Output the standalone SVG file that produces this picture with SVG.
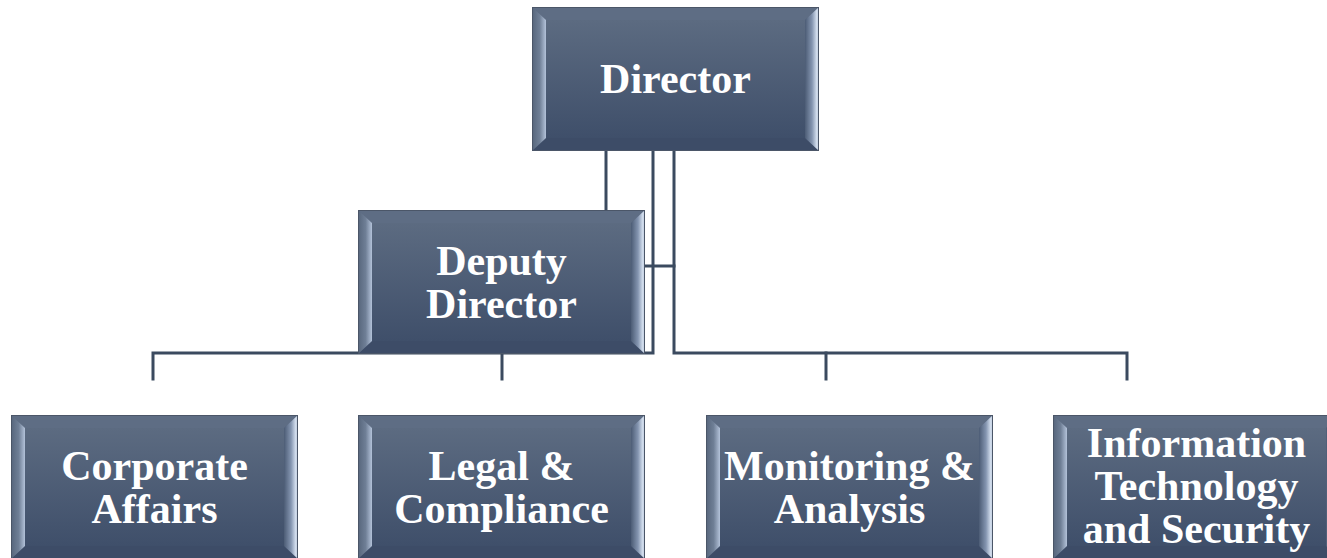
<svg xmlns="http://www.w3.org/2000/svg" xmlns:xlink="http://www.w3.org/1999/xlink" width="1327" height="558" viewBox="0 0 1327 558">
  <style>
    .wire { fill: none; stroke: #3b4a5f; stroke-width: 3; stroke-linecap: square; }
    .label { font-family: "Liberation Serif", "Times New Roman", serif; font-weight: bold; font-size: 42px; fill: #ffffff; text-anchor: middle; }
  </style>
  <defs>
    <linearGradient id="faceGrad" x1="0" y1="0" x2="0" y2="1">
      <stop offset="0" stop-color="#5c6b81"/>
      <stop offset="1" stop-color="#3f4f6a"/>
    </linearGradient>
    <linearGradient id="leftGrad" x1="0" y1="0" x2="1" y2="0">
      <stop offset="0" stop-color="#56657b"/>
      <stop offset="0.55" stop-color="#6f7f96"/>
      <stop offset="1" stop-color="#b3c2d9"/>
    </linearGradient>
    <linearGradient id="rightGrad" x1="0" y1="0" x2="1" y2="0">
      <stop offset="0" stop-color="#4c5c75"/>
      <stop offset="0.5" stop-color="#8495b0"/>
      <stop offset="0.85" stop-color="#d6e1f0"/>
      <stop offset="1" stop-color="#aab8cc"/>
    </linearGradient>
    <!-- bevelled box, 287 x 144 -->
    <g id="box">
      <rect x="0" y="0" width="287" height="144" fill="url(#faceGrad)"/>
      <polygon points="0,0 287,0 273,13 14,13" fill="#5e6d84"/>
      <polygon points="0,144 287,144 273,131 14,131" fill="#3d4c67"/>
      <polygon points="0,0 14,13 14,131 0,144" fill="url(#leftGrad)"/>
      <polygon points="287,0 273,13 273,131 287,144" fill="url(#rightGrad)"/>
      <rect x="14" y="13" width="259" height="118" fill="url(#faceGrad)"/>
      <rect x="0.5" y="0.5" width="286" height="143" fill="none" stroke="#4b5668" stroke-width="1"/>
    </g>
  </defs>

  <rect width="1327" height="558" fill="#ffffff"/>

  <g id="connectors">
    <line class="wire" x1="606" y1="151" x2="606" y2="211"/>
    <polyline class="wire" points="653,151 653,353 153,353 153,379"/>
    <line class="wire" x1="502" y1="353" x2="502" y2="379"/>
    <polyline class="wire" points="674,151 674,353 1127,353 1127,379"/>
    <line class="wire" x1="826" y1="353" x2="826" y2="379"/>
    <line class="wire" x1="646" y1="266" x2="674" y2="266"/>
  </g>

  <g id="director">
    <use xlink:href="#box" transform="translate(532,7)"/>
    <text class="label" x="675.5" y="93">Director</text>
  </g>

  <g id="deputy-director">
    <use xlink:href="#box" transform="translate(358,210)"/>
    <text class="label" x="501.5" y="275">Deputy</text>
    <text class="label" x="501.5" y="318">Director</text>
  </g>

  <g id="corporate-affairs">
    <use xlink:href="#box" transform="translate(11,415)"/>
    <text class="label" x="154.5" y="480">Corporate</text>
    <text class="label" x="154.5" y="523">Affairs</text>
  </g>

  <g id="legal-compliance">
    <use xlink:href="#box" transform="translate(358,415)"/>
    <text class="label" x="501.5" y="480">Legal &amp;</text>
    <text class="label" x="501.5" y="523">Compliance</text>
  </g>

  <g id="monitoring-analysis">
    <use xlink:href="#box" transform="translate(706,415)"/>
    <text class="label" x="849.5" y="480">Monitoring &amp;</text>
    <text class="label" x="849.5" y="523">Analysis</text>
  </g>

  <g id="it-security">
    <use xlink:href="#box" transform="translate(1053,415)"/>
    <text class="label" x="1196.5" y="457">Information</text>
    <text class="label" x="1196.5" y="500">Technology</text>
    <text class="label" x="1196.5" y="543">and Security</text>
  </g>
</svg>
